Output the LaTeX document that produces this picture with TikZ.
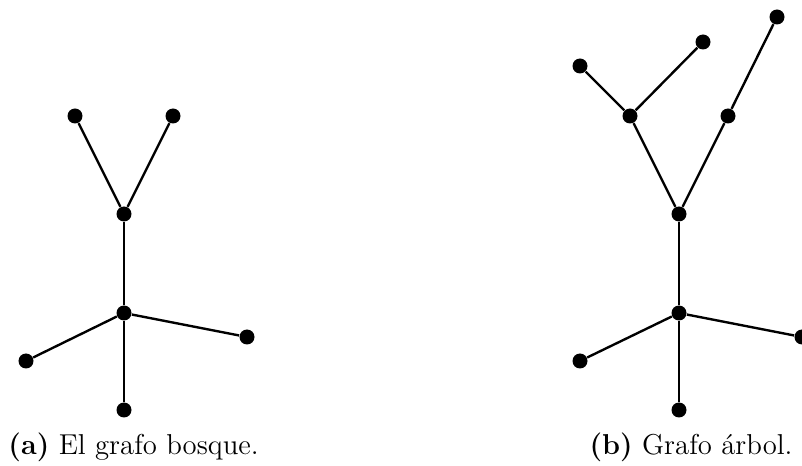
\documentclass[tikz,border=0pt]{standalone}
\begin{document}
\begin{tikzpicture}[x=0.4pt,y=-0.4pt,
  vtx/.style={circle,fill=black,inner sep=0pt,minimum size=6pt},
  edge/.style={line width=0.95pt},
  caption/.style={inner sep=0pt,font=\fontsize{11.5}{14}\selectfont}]
\useasboundingbox (0,0) rectangle (802,466);
% forest
\node[vtx] (a1) at (75,116) {};
\node[vtx] (a2) at (173,116) {};
\node[vtx] (a3) at (124,214) {};
\node[vtx] (a4) at (124,313) {};
\node[vtx] (a5) at (26,361) {};
\node[vtx] (a6) at (247,337) {};
\node[vtx] (a7) at (124,410) {};
\draw[edge] (a1) -- (a3) -- (a2);
\draw[edge] (a3) -- (a4);
\draw[edge] (a5) -- (a4) -- (a6);
\draw[edge] (a4) -- (a7);
% tree
\node[vtx] (b1) at (580,66) {};
\node[vtx] (b2) at (703,42) {};
\node[vtx] (b3) at (777,17) {};
\node[vtx] (b4) at (630,116) {};
\node[vtx] (b5) at (728,116) {};
\node[vtx] (b6) at (679,214) {};
\node[vtx] (b7) at (679,313) {};
\node[vtx] (b8) at (580,361) {};
\node[vtx] (b9) at (802,337) {};
\node[vtx] (b10) at (679,410) {};
\draw[edge] (b1) -- (b4) -- (b2);
\draw[edge] (b3) -- (b5);
\draw[edge] (b4) -- (b6) -- (b5);
\draw[edge] (b6) -- (b7);
\draw[edge] (b8) -- (b7) -- (b9);
\draw[edge] (b7) -- (b10);
% captions
\node[caption,anchor=base west] (ca) at (8,455) {\textbf{(a)} El grafo bosque.};
\node[caption,anchor=base east] (cb) at (793,455) {\textbf{(b)} Grafo árbol.};
\end{tikzpicture}
\end{document}
